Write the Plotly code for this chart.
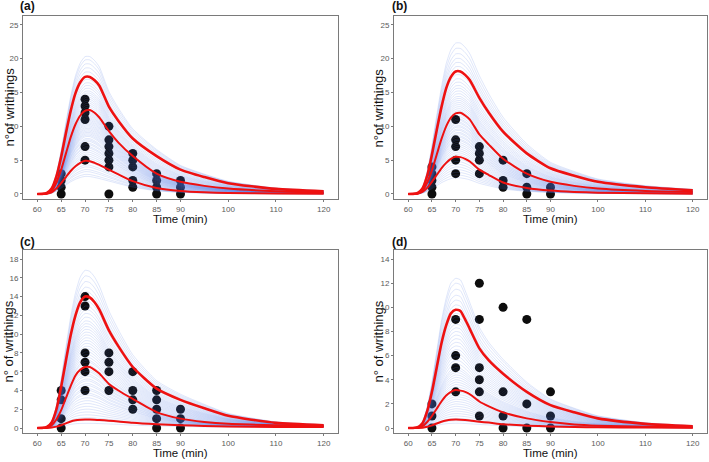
import plotly.graph_objects as go

# ---------------- data ----------------
T = [60, 61, 62, 63, 64, 65, 66, 67, 68, 69, 70, 71, 72, 73, 75, 77, 80, 85, 90, 95, 100, 110, 120]

# panel (a) percentile curves
a_up = [0, 0.02, 0.15, 0.8, 2.6, 5.5, 9.0, 12.3, 14.9, 16.5, 17.3, 17.3, 16.8, 16.0, 12.9, 10.8, 8.2, 5.6, 3.6, 2.5, 1.6, 0.75, 0.4]
a_md = [0, 0.01, 0.1, 0.5, 1.7, 3.6, 6.0, 8.4, 10.3, 11.6, 12.3, 12.4, 12.0, 11.3, 9.3, 7.6, 5.6, 3.0, 1.8, 1.2, 0.8, 0.4, 0.2]
a_lo = [0, 0.0, 0.05, 0.25, 0.8, 1.6, 2.5, 3.4, 4.1, 4.6, 4.9, 4.85, 4.6, 4.3, 3.6, 2.9, 1.9, 0.9, 0.45, 0.25, 0.15, 0.08, 0.05]
# panel (b)
b_up = [0, 0.02, 0.15, 0.8, 2.7, 5.8, 9.4, 12.8, 15.6, 17.3, 18.1, 18.1, 17.6, 16.8, 14.2, 12.0, 9.2, 6.0, 3.8, 2.7, 1.8, 1.0, 0.55]
b_md = [0, 0.01, 0.1, 0.5, 1.7, 3.5, 5.8, 8.1, 10.0, 11.3, 11.9, 12.0, 11.6, 11.0, 8.8, 7.3, 5.2, 3.0, 1.8, 1.2, 0.8, 0.45, 0.3]
b_lo = [0, 0.0, 0.05, 0.3, 0.9, 1.8, 2.8, 3.8, 4.6, 5.2, 5.5, 5.45, 5.2, 4.8, 3.6, 2.8, 1.7, 0.9, 0.5, 0.3, 0.2, 0.1, 0.05]
# panel (c)
c_up = [0, 0.02, 0.12, 0.6, 2.0, 4.4, 7.2, 9.9, 12.0, 13.4, 14.0, 13.9, 13.4, 12.6, 10.4, 8.7, 6.5, 4.2, 3.0, 2.1, 1.3, 0.55, 0.3]
c_md = [0, 0.0, 0.05, 0.3, 0.9, 1.9, 3.2, 4.5, 5.6, 6.2, 6.5, 6.5, 6.2, 5.8, 4.7, 4.0, 3.1, 1.7, 1.0, 0.65, 0.45, 0.3, 0.2]
c_lo = [0, 0.0, 0.01, 0.05, 0.15, 0.3, 0.5, 0.7, 0.82, 0.88, 0.9, 0.9, 0.88, 0.85, 0.78, 0.7, 0.55, 0.4, 0.3, 0.22, 0.17, 0.12, 0.1]
# panel (d)
d_up = [0, 0.01, 0.08, 0.4, 1.4, 3.0, 5.0, 7.0, 8.5, 9.5, 9.8, 9.7, 9.0, 8.2, 6.6, 5.6, 4.5, 3.0, 1.9, 1.3, 0.8, 0.35, 0.15]
d_md = [0, 0.0, 0.03, 0.15, 0.5, 1.0, 1.6, 2.2, 2.7, 3.0, 3.15, 3.1, 3.0, 2.8, 2.2, 1.8, 1.3, 0.8, 0.5, 0.3, 0.2, 0.1, 0.05]
d_lo = [0, 0.0, 0.01, 0.03, 0.1, 0.22, 0.38, 0.52, 0.62, 0.68, 0.7, 0.69, 0.66, 0.62, 0.52, 0.45, 0.32, 0.2, 0.13, 0.08, 0.06, 0.04, 0.03]

# peak heights of the simulated (blue) curves
a_peaks = [2.6, 2.9, 3.3, 3.6, 4.0, 4.3, 4.7, 5.0, 5.3, 5.6, 5.9, 6.2, 6.5, 6.8, 7.0, 7.3, 7.5, 7.8, 8.0, 8.2,
           8.5, 8.7, 8.9, 9.1, 9.3, 9.5, 9.7, 9.9, 10.1, 10.3, 10.5, 10.7, 10.9, 11.1, 11.3, 11.5, 11.7,
           11.9, 12.1, 12.3, 12.5, 12.8, 13.1, 13.4, 13.7, 14.0, 14.3, 14.6, 14.9, 15.2, 15.6, 16.0, 16.4,
           16.9, 17.4, 18.0, 18.6, 19.2, 19.8, 20.3]
b_peaks = [2.4, 2.8, 3.2, 3.6, 4.0, 4.4, 4.8, 5.2, 5.5, 5.8, 6.1, 6.4, 6.7, 7.0, 7.3, 7.6, 7.9, 8.1, 8.4,
           8.6, 8.9, 9.1, 9.4, 9.6, 9.9, 10.1, 10.4, 10.6, 10.9, 11.1, 11.4, 11.7, 12.0, 12.3, 12.6, 12.9,
           13.2, 13.5, 13.8, 14.1, 14.4, 14.8, 15.2, 15.6, 16.0, 16.5, 17.0, 17.6, 18.2, 18.8, 19.4,
           20.0, 20.7, 21.5, 22.3]
c_peaks = [0.5, 0.8, 1.1, 1.4, 1.7, 2.0, 2.3, 2.6, 2.9, 3.2, 3.5, 3.7, 4.0, 4.2, 4.5, 4.7, 5.0, 5.2, 5.5,
           5.7, 6.0, 6.2, 6.5, 6.7, 7.0, 7.2, 7.5, 7.8, 8.1, 8.4, 8.7, 9.0, 9.3, 9.6, 9.9, 10.2, 10.5,
           10.8, 11.1, 11.4, 11.8, 12.2, 12.6, 13.0, 13.5, 14.0, 14.5, 15.0, 15.6, 16.2, 16.8]
d_peaks = [0.4, 0.6, 0.8, 1.0, 1.2, 1.4, 1.6, 1.8, 2.0, 2.2, 2.4, 2.6, 2.8, 3.0, 3.2, 3.4, 3.6, 3.8,
           4.0, 4.2, 4.4, 4.6, 4.8, 5.0, 5.3, 5.6, 5.9, 6.2, 6.5, 6.8, 7.1, 7.4, 7.7, 8.0, 8.3, 8.6,
           8.9, 9.2, 9.5, 9.8, 10.2, 10.6, 11.0, 11.5, 12.0, 12.4]

# observed writhings
a_obs_t = [65]*4 + [70]*6 + [75]*7 + [80]*5 + [85]*4 + [90]*3
a_obs_y = [0, 1, 2, 3, 5, 7, 11, 12, 13, 14, 0, 4, 5, 6, 7, 8, 10, 1, 2, 4, 5, 6, 0, 1, 2, 3, 0, 1, 2]
b_obs_t = [65]*5 + [70]*5 + [75]*4 + [80]*3 + [85]*3 + [90]*2
b_obs_y = [0, 1, 2, 3, 4, 3, 5, 7, 8, 11, 3, 5, 6, 7, 1, 2, 5, 0, 1, 3, 0, 1]
c_obs_t = [65]*4 + [70]*6 + [75]*4 + [80]*4 + [85]*5 + [90]*3
c_obs_y = [0, 1, 3, 4, 4, 6, 7, 8, 13, 14, 4, 6, 7, 8, 2, 3, 4, 6, 0, 1, 2, 3, 4, 0, 1, 2]
d_obs_t = [65]*3 + [70]*4 + [75]*6 + [80]*4 + [85]*3 + [90]*3
d_obs_y = [0, 1, 2, 3, 5, 6, 9, 1, 3, 4, 5, 9, 12, 0, 1, 3, 10, 0, 2, 9, 0, 1, 3]

x_ticks = [60, 65, 70, 75, 80, 85, 90, 100, 110, 120]
y_ticks_ab = [0, 5, 10, 15, 20, 25]
y_ticks_c = [0, 2, 4, 6, 8, 10, 12, 14, 16, 18]
y_ticks_d = [0, 2, 4, 6, 8, 10, 12, 14]

labels = ["(a)", "(b)", "(c)", "(d)"]
y_titles = ["n°of writhings", "n°of writhings", "n° of writhings", "n° of writhings"]
x_title = "Time (min)"

# ---------------- figure ----------------
W, H = 709, 462
panels = [
    dict(lo=a_lo, md=a_md, up=a_up, peaks=a_peaks, ot=a_obs_t, oy=a_obs_y, yt=y_ticks_ab, yr=[-0.74, 26.3],
         px=(23, 338), py=(16, 199), lab=(18, 6), yt_x=9, tb=227),
    dict(lo=b_lo, md=b_md, up=b_up, peaks=b_peaks, ot=b_obs_t, oy=b_obs_y, yt=y_ticks_ab, yr=[-0.74, 26.3],
         px=(394, 707), py=(16, 199), lab=(390, 6), yt_x=378, tb=227),
    dict(lo=c_lo, md=c_md, up=c_up, peaks=c_peaks, ot=c_obs_t, oy=c_obs_y, yt=y_ticks_c, yr=[-0.53, 18.96],
         px=(23, 338), py=(250, 433), lab=(18, 242), yt_x=8, tb=461),
    dict(lo=d_lo, md=d_md, up=d_up, peaks=d_peaks, ot=d_obs_t, oy=d_obs_y, yt=y_ticks_d, yr=[-0.41, 14.75],
         px=(394, 707), py=(250, 433), lab=(390, 242), yt_x=378, tb=461),
]


def blend(p, lo, md, up):
    Lp, Mp, Up = max(lo), max(md), max(up)
    if p <= Lp:
        return [v * p / Lp for v in lo]
    if p <= Mp:
        w = (p - Lp) / (Mp - Lp)
        return [l + w * (m - l) for l, m in zip(lo, md)]
    if p <= Up:
        w = (p - Mp) / (Up - Mp)
        return [m + w * (u - m) for m, u in zip(md, up)]
    return [v * p / Up for v in up]


fig = go.Figure()
layout = dict(width=W, height=H, margin=dict(l=0, r=0, t=0, b=0), paper_bgcolor="white",
              plot_bgcolor="white", showlegend=False,
              font=dict(family="Liberation Sans, Arial, sans-serif", color="#222"))
annotations = []
axcommon = dict(showgrid=False, zeroline=False, showline=True, mirror=True, linecolor="#7a7a7a",
                linewidth=1, ticks="outside", ticklen=2, tickcolor="#7a7a7a",
                tickfont=dict(size=8, color="#5a5a5a"))

for i, P in enumerate(panels):
    n = i + 1
    xa = "x" if n == 1 else f"x{n}"
    ya = "y" if n == 1 else f"y{n}"
    # observations (below lines)
    fig.add_trace(go.Scatter(x=P["ot"], y=P["oy"], mode="markers", xaxis=xa, yaxis=ya, cliponaxis=False,
                             marker=dict(size=9, color="#0d0d0d"), hoverinfo="skip"))
    for p in P["peaks"]:
        fig.add_trace(go.Scatter(x=T, y=blend(p, P["lo"], P["md"], P["up"]), mode="lines",
                                 xaxis=xa, yaxis=ya, line=dict(color="rgba(80,120,225,0.2)", width=0.9,
                                                               shape="spline", smoothing=0.6),
                                 hoverinfo="skip"))
    for key, wd in (("lo", 2.0), ("md", 2.0), ("up", 2.6)):
        fig.add_trace(go.Scatter(x=T, y=P[key], mode="lines", xaxis=xa, yaxis=ya,
                                 line=dict(color="#ee1111", width=wd, shape="spline", smoothing=0.6),
                                 hoverinfo="skip"))
    x0, x1 = P["px"]
    y0, y1 = P["py"]
    layout["xaxis" if n == 1 else f"xaxis{n}"] = dict(
        domain=[x0 / W, x1 / W], range=[57, 123], tickvals=x_ticks, anchor=ya, **axcommon)
    layout["yaxis" if n == 1 else f"yaxis{n}"] = dict(
        domain=[1 - y1 / H, 1 - y0 / H], range=P["yr"], tickvals=P["yt"], anchor=xa, **axcommon)
    lx, ly = P["lab"]
    annotations.append(dict(text=f"<b>{labels[i]}</b>", x=lx / W, y=1 - ly / H, xref="paper",
                            yref="paper", showarrow=False, xanchor="left", yanchor="middle",
                            font=dict(size=12, color="#111")))
    annotations.append(dict(text=x_title, x=(x0 + x1) / 2 / W, y=1 - P["tb"] / H, xref="paper",
                            yref="paper", showarrow=False, xanchor="center", yanchor="bottom",
                            font=dict(size=11.5, color="#111")))
    annotations.append(dict(text=y_titles[i], x=P["yt_x"] / W, y=1 - (y0 + y1) / 2 / H, xref="paper",
                            yref="paper", showarrow=False, textangle=-90, xanchor="center",
                            yanchor="middle", font=dict(size=13, color="#111")))

layout["annotations"] = annotations
fig.update_layout(**layout)
fig.write_html("out.html", config={"displayModeBar": False},
               post_script="document.body.style.margin='0';")
